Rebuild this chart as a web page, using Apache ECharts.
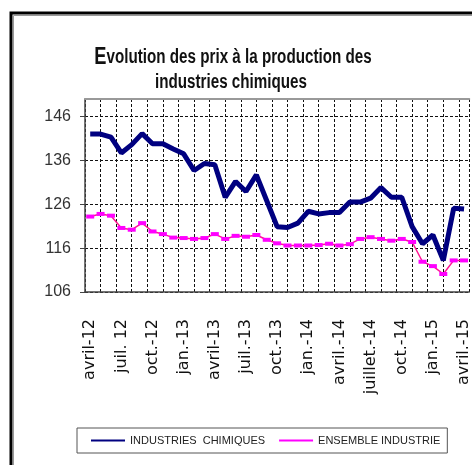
<!DOCTYPE html>
<html>
<head>
<meta charset="utf-8">
<script src="https://cdn.jsdelivr.net/npm/echarts@6/dist/echarts.min.js"></script>
<style>
  html, body { margin: 0; padding: 0; background: #fff; }
  #chart { width: 472px; height: 465px; }
</style>
</head>
<body>
<div id="chart"></div>
<script>
// months, avril 2012 -> avril 2015
var months = [
  'avril-12', 'mai-12', 'juin-12', 'juil. 12', 'août-12', 'sept.-12',
  'oct.-12', 'nov.-12', 'déc.-12', 'jan.-13', 'févr.-13', 'mars-13',
  'avril-13', 'mai-13', 'juin-13', 'juil.-13', 'août-13', 'sept.-13',
  'oct.-13', 'nov.-13', 'déc.-13', 'jan.-14', 'févr.-14', 'mars-14',
  'avril.-14', 'mai-14', 'juin-14', 'juillet.-14', 'août-14', 'sept.-14',
  'oct.-14', 'nov.-14', 'déc.-14', 'jan.-15', 'févr.-15', 'mars-15',
  'avril.-15'
];

var chimie = [
  142.0, 142.0, 141.3, 137.7, 139.6, 142.1, 139.8, 139.8, 138.6, 137.5,
  133.7, 135.3, 135.0, 127.6, 131.2, 128.9, 132.7, 126.8, 120.9, 120.7,
  121.7, 124.4, 123.8, 124.1, 124.1, 126.5, 126.5, 127.4, 129.8, 127.6,
  127.6, 120.9, 117.0, 119.0, 113.2, 125.1, 124.9
];

var ensemble = [
  123.2, 123.8, 123.4, 120.6, 120.2, 121.7, 119.8, 119.2, 118.4, 118.3,
  118.1, 118.3, 119.2, 118.1, 118.8, 118.6, 119.0, 117.9, 117.1, 116.6,
  116.6, 116.6, 116.7, 117.0, 116.6, 116.9, 118.1, 118.5, 118.1, 117.7,
  118.1, 117.4, 112.9, 111.9, 110.1, 113.2, 113.2
];

var serieNames = ['INDUSTRIES  CHIMIQUES', 'ENSEMBLE INDUSTRIE'];
var titleLines = ['volution des prix à la production des', 'industries chimiques'];

var font = '"Liberation Sans", Arial, sans-serif';

var myChart = echarts.init(document.getElementById('chart'));

option = {
  animation: false,
  backgroundColor: '#fff',
  graphic: [
    // outer frame (cut at the right and bottom)
    { type: 'rect', shape: { x: 11, y: 13, width: 520, height: 520 },
      style: { fill: 'none', stroke: '#000', lineWidth: 3 } },
    { type: 'rect', shape: { x: 13.5, y: 15.5, width: 520, height: 520 },
      style: { fill: 'none', stroke: '#999', lineWidth: 1 } },
    // title, squeezed like the narrow font of the original
    { type: 'text', x: 233, y: 57, scaleX: 0.76,
      style: {
        text: '{e|E}' + titleLines[0],
        align: 'center', verticalAlign: 'middle',
        font: 'bold 20px ' + font, fill: '#111',
        rich: { e: { font: 'bold 24px ' + font, fill: '#111' } }
      } },
    { type: 'text', x: 231, y: 82, scaleX: 0.76,
      style: {
        text: titleLines[1], align: 'center', verticalAlign: 'middle',
        font: 'bold 20px ' + font, fill: '#111'
      } }
  ],
  legend: {
    data: [
      { name: serieNames[0], icon: 'rect' },
      { name: serieNames[1], icon: 'rect' }
    ],
    left: 77,
    top: 428,
    itemWidth: 34,
    itemHeight: 2,
    itemGap: 14,
    padding: [7, 7, 7, 14],
    borderColor: '#555',
    borderWidth: 1,
    borderRadius: 0,
    textStyle: { fontFamily: font, fontSize: 11, color: '#222' }
  },
  grid: {
    left: 85,
    top: 99,
    right: -2,
    bottom: 173,
    containLabel: false
  },
  xAxis: [
    {
      type: 'category',
      data: months,
      boundaryGap: true,
      position: 'bottom',
      axisLine: { lineStyle: { color: '#444', width: 1.5 } },
      axisTick: { interval: 2, length: 6, lineStyle: { color: '#444' } },
      axisLabel: {
        interval: 2,
        rotate: 90,
        margin: 27,
        fontFamily: '"DejaVu Sans", sans-serif',
        fontSize: 16,
        color: '#111'
      },
      splitLine: { show: false }
    },
    {
      // only used for the vertical dashed grid
      type: 'value',
      min: 0,
      max: 37,
      interval: 1.5,
      position: 'top',
      axisLine: { show: true, lineStyle: { color: '#999', width: 2 } },
      axisTick: { show: false },
      axisLabel: { show: false },
      splitLine: { show: true, lineStyle: { color: '#111', type: [3, 2], width: 1 } }
    }
  ],
  yAxis: {
    type: 'value',
    min: 106,
    max: 150,
    interval: 10,
    axisLine: { show: true, lineStyle: { color: '#444', width: 1.5 } },
    axisTick: { show: true, length: 5, lineStyle: { color: '#444' } },
    axisLabel: {
      showMaxLabel: false,
      margin: 14,
      fontFamily: font,
      fontSize: 16,
      color: '#333'
    },
    splitLine: { lineStyle: { color: '#111', type: [3, 2], width: 1 } }
  },
  series: [
    {
      name: serieNames[1],
      type: 'line',
      xAxisIndex: 0,
      data: ensemble,
      symbol: 'rect',
      symbolSize: [8, 4],
      showSymbol: true,
      color: '#ff00ff',
      itemStyle: { color: '#ff00ff' },
      lineStyle: { color: '#ff1493', width: 1.5 },
      z: 2
    },
    {
      name: serieNames[0],
      type: 'line',
      xAxisIndex: 0,
      data: chimie,
      showSymbol: false,
      symbol: 'none',
      color: '#000080',
      lineStyle: { color: '#000080', width: 5 },
      z: 3
    }
  ]
};
myChart.setOption(option);
</script>
</body>
</html>
